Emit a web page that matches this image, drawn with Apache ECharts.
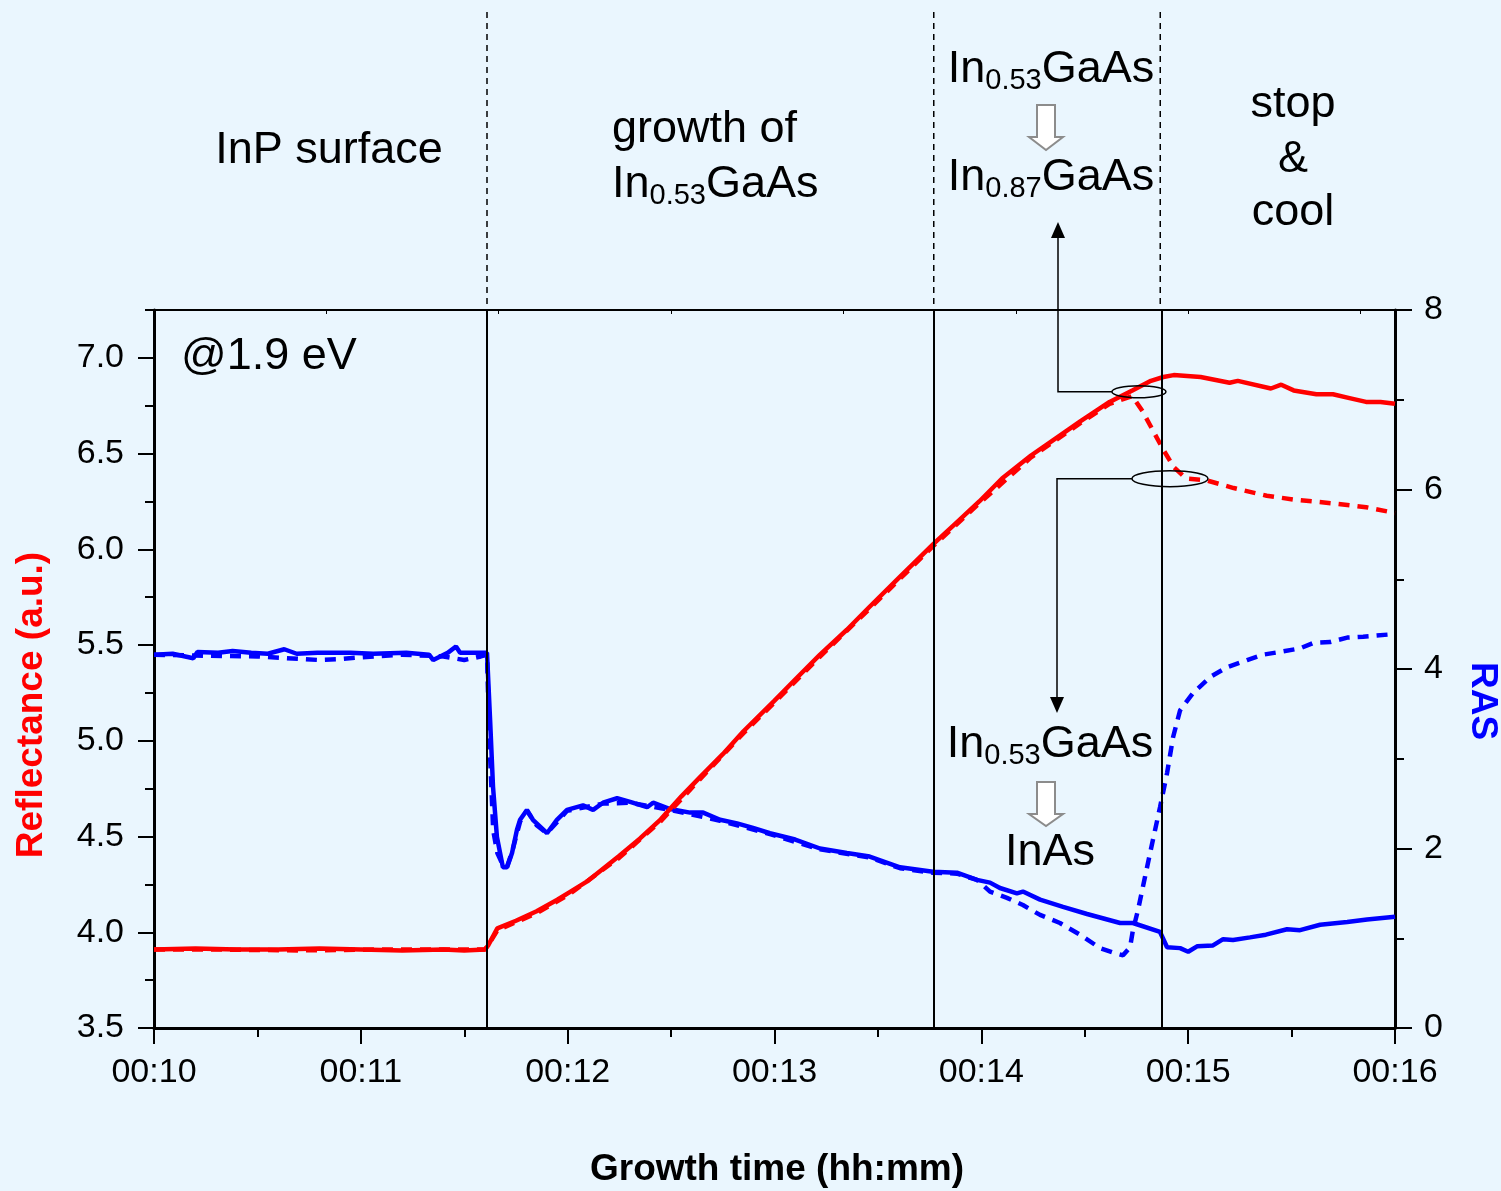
<!DOCTYPE html>
<html>
<head>
<meta charset="UTF-8">
<title>Reflectance / RAS</title>
<style>
  html, body { margin: 0; padding: 0; background: #eaf6fe; }
  #main { width: 1501px; height: 1191px; }
</style>
</head>
<body>
<div id="main"></div>
<script src="https://cdn.jsdelivr.net/npm/echarts@6/dist/echarts.min.js"></script>
<script type="text/javascript">
  var FONT = "'Liberation Sans', Arial, sans-serif";

  // [time in minutes, reflectance]
  var reflSolid = [
    [10.0, 3.91], [10.2, 3.915], [10.4, 3.91], [10.6, 3.91], [10.8, 3.915], [11.0, 3.91],
    [11.2, 3.905], [11.4, 3.91], [11.5, 3.905], [11.6, 3.91], [11.615, 3.93], [11.66, 4.02],
    [11.75, 4.06], [11.85, 4.11], [11.95, 4.17], [12.01, 4.21], [12.1, 4.27], [12.25, 4.40],
    [12.35, 4.49], [12.45, 4.59], [12.55, 4.71], [12.64, 4.81], [12.75, 4.93], [12.85, 5.05],
    [13.0, 5.21], [13.1, 5.32], [13.22, 5.45], [13.35, 5.58], [13.46, 5.70], [13.6, 5.85],
    [13.77, 6.03], [13.88, 6.14], [13.99, 6.25], [14.1, 6.37], [14.24, 6.49], [14.36, 6.58],
    [14.48, 6.67], [14.62, 6.77], [14.73, 6.83], [14.82, 6.88], [14.88, 6.90], [14.93, 6.91],
    [15.06, 6.90], [15.2, 6.87], [15.24, 6.88], [15.4, 6.84], [15.45, 6.86], [15.51, 6.83],
    [15.62, 6.81], [15.70, 6.81], [15.78, 6.79], [15.86, 6.77], [15.93, 6.77], [16.0, 6.76]
  ];
  var reflDashed = [
    [10.0, 3.91], [10.3, 3.91], [10.7, 3.905], [11.1, 3.91], [11.6, 3.91], [11.615, 3.93],
    [11.66, 4.01], [11.85, 4.10], [12.01, 4.20], [12.25, 4.39], [12.45, 4.58], [12.64, 4.80],
    [12.85, 5.04], [13.0, 5.20], [13.22, 5.44], [13.46, 5.69], [13.77, 6.02], [13.99, 6.24],
    [14.24, 6.48], [14.48, 6.66], [14.62, 6.76], [14.73, 6.80], [14.78, 6.72], [14.83, 6.62],
    [14.88, 6.52], [14.93, 6.43], [14.99, 6.37], [15.09, 6.36], [15.22, 6.32], [15.38, 6.28],
    [15.51, 6.26], [15.70, 6.24], [15.86, 6.22], [16.0, 6.19]
  ];

  // [time in minutes, RAS]
  var rasSolid = [
    [10.0, 4.16], [10.09, 4.17], [10.19, 4.12], [10.21, 4.19], [10.31, 4.18], [10.38, 4.20],
    [10.47, 4.18], [10.55, 4.17], [10.63, 4.22], [10.69, 4.17], [10.79, 4.18], [10.95, 4.18],
    [11.06, 4.17], [11.22, 4.18], [11.33, 4.16], [11.35, 4.10], [11.42, 4.18], [11.46, 4.25],
    [11.48, 4.18], [11.55, 4.18], [11.61, 4.18], [11.615, 4.16], [11.625, 3.43], [11.639, 2.69],
    [11.658, 2.13], [11.687, 1.79], [11.707, 1.79], [11.731, 1.95], [11.755, 2.21], [11.77, 2.32],
    [11.803, 2.43], [11.832, 2.32], [11.9, 2.17], [11.948, 2.32], [11.997, 2.43], [12.074, 2.48],
    [12.123, 2.43], [12.171, 2.51], [12.239, 2.56], [12.302, 2.52], [12.384, 2.46], [12.413, 2.51],
    [12.495, 2.44], [12.592, 2.40], [12.655, 2.40], [12.737, 2.32], [12.819, 2.28], [12.896, 2.23],
    [12.978, 2.17], [13.1, 2.10], [13.22, 2.00], [13.35, 1.95], [13.46, 1.91], [13.607, 1.79],
    [13.766, 1.74], [13.882, 1.73], [13.979, 1.65], [14.042, 1.62], [14.09, 1.56], [14.172, 1.50],
    [14.201, 1.52], [14.284, 1.43], [14.395, 1.35], [14.511, 1.27], [14.671, 1.17], [14.733, 1.17],
    [14.864, 1.07], [14.898, 0.90], [14.961, 0.89], [15.0, 0.85], [15.043, 0.91], [15.12, 0.92],
    [15.169, 0.99], [15.217, 0.98], [15.299, 1.01], [15.376, 1.04], [15.478, 1.10], [15.541, 1.09],
    [15.638, 1.15], [15.769, 1.18], [15.865, 1.21], [16.0, 1.24]
  ];
  var rasDashed = [
    [10.0, 4.16], [10.2, 4.15], [10.5, 4.14], [10.8, 4.10], [10.9, 4.11], [11.0, 4.13],
    [11.2, 4.16], [11.4, 4.14], [11.5, 4.10], [11.58, 4.14], [11.61, 4.16], [11.62, 3.30],
    [11.64, 2.20], [11.66, 1.95], [11.69, 1.80], [11.707, 1.80], [11.731, 1.96], [11.77, 2.30],
    [11.803, 2.42], [11.85, 2.26], [11.9, 2.17], [11.997, 2.42], [12.171, 2.50], [12.302, 2.51],
    [12.495, 2.43], [12.737, 2.31], [12.978, 2.16], [13.22, 1.99], [13.46, 1.90], [13.607, 1.78],
    [13.766, 1.73], [13.882, 1.72], [13.979, 1.65], [14.042, 1.52], [14.124, 1.45], [14.201, 1.37],
    [14.284, 1.26], [14.38, 1.17], [14.477, 1.04], [14.574, 0.89], [14.638, 0.84], [14.685, 0.81],
    [14.719, 0.90], [14.733, 1.09], [14.757, 1.31], [14.791, 1.68], [14.816, 1.95], [14.83, 2.10],
    [14.864, 2.46], [14.898, 2.84], [14.927, 3.24], [14.961, 3.54], [15.023, 3.73], [15.106, 3.91],
    [15.188, 4.02], [15.285, 4.10], [15.362, 4.16], [15.444, 4.19], [15.541, 4.23], [15.604, 4.29],
    [15.686, 4.30], [15.769, 4.35], [15.846, 4.36], [16.0, 4.39]
  ];

  // phase boundaries (minutes)
  var phaseTimes = [11.61, 13.77, 14.865];
  var reflTicks = [3.5, 4.0, 4.5, 5.0, 5.5, 6.0, 6.5, 7.0];

  var myChart = echarts.init(document.getElementById('main'));

  var option = {
    backgroundColor: '#eaf6fe',
    animation: false,
    textStyle: { fontFamily: FONT },
    grid: { left: 154, right: 106, top: 310, bottom: 163, outerBoundsMode: 'none' },
    xAxis: [{
      type: 'value', min: 10, max: 16, interval: 1, position: 'bottom',
      axisLine: { lineStyle: { color: '#000', width: 3 } },
      axisTick: { length: 16, lineStyle: { color: '#000', width: 2 } },
      minorTick: { show: true, splitNumber: 2, length: 9, lineStyle: { color: '#000', width: 2 } },
      splitLine: { show: false },
      axisLabel: {
        margin: 28, fontSize: 34, color: '#000', fontFamily: FONT,
        formatter: function (v) { return '00:' + v; }
      }
    }, {
      // top frame line with small inside ticks
      type: 'value', min: 0, max: 360, interval: 50, position: 'top',
      axisLine: { lineStyle: { color: '#000', width: 2 } },
      axisTick: { inside: true, length: 4, lineStyle: { color: '#000', width: 1 } },
      axisLabel: { show: false },
      splitLine: { show: false }
    }],
    yAxis: [{
      type: 'value', min: 3.5, max: 7.25, interval: 0.5, position: 'left',
      axisLine: { show: true, lineStyle: { color: '#000', width: 3 } },
      axisTick: { show: true, length: 16, customValues: reflTicks, lineStyle: { color: '#000', width: 2 } },
      splitLine: { show: false },
      axisLabel: {
        margin: 30, fontSize: 34, color: '#000', fontFamily: FONT, customValues: reflTicks,
        formatter: function (v) { return v.toFixed(1); }
      }
    }, {
      type: 'value', min: 0, max: 8, interval: 2, position: 'right',
      axisLine: { show: true, lineStyle: { color: '#000', width: 3 } },
      axisTick: { show: true, length: 17, lineStyle: { color: '#000', width: 2 } },
      minorTick: { show: true, splitNumber: 2, length: 9, lineStyle: { color: '#000', width: 2 } },
      splitLine: { show: false },
      axisLabel: { margin: 29, fontSize: 34, color: '#000', fontFamily: FONT }
    }, {
      // minor ticks of the reflectance axis
      type: 'value', min: 3.5, max: 7.25, interval: 0.25, position: 'left',
      axisLine: { show: false },
      axisTick: { show: true, length: 9, lineStyle: { color: '#000', width: 2 } },
      axisLabel: { show: false },
      splitLine: { show: false }
    }],
    series: [{
      name: 'RAS dashed', type: 'line', yAxisIndex: 1, showSymbol: false,
      lineStyle: { color: '#0000ff', width: 4.5, type: [11, 8] },
      data: rasDashed
    }, {
      name: 'RAS', type: 'line', yAxisIndex: 1, showSymbol: false,
      lineStyle: { color: '#0000ff', width: 4.5 },
      data: rasSolid
    }, {
      name: 'Reflectance dashed', type: 'line', yAxisIndex: 0, showSymbol: false,
      lineStyle: { color: '#ff0000', width: 4.5, type: [11, 8] },
      data: reflDashed
    }, {
      name: 'Reflectance', type: 'line', yAxisIndex: 0, showSymbol: false,
      lineStyle: { color: '#ff0000', width: 4.5 },
      data: reflSolid,
      markLine: {
        silent: true, symbol: 'none', label: { show: false },
        lineStyle: { color: '#000', width: 2, type: 'solid' },
        data: phaseTimes.map(function (t) { return { xAxis: t }; })
      }
    }]
  };

  myChart.setOption(option);

  // annotations
  function formula(sub) {
    return '{m|In}{s|' + sub + '}{m|GaAs}';
  }
  var rich = {
    m: { fontSize: 45, lineHeight: 50, fontFamily: FONT, fill: '#000', verticalAlign: 'middle' },
    s: { fontSize: 29, lineHeight: 20, fontFamily: FONT, fill: '#000', verticalAlign: 'bottom' }
  };
  function label(text, x, y, align) {
    return {
      type: 'text', silent: true, z: 100,
      style: {
        text: text, x: x, y: y, fill: '#000', fontSize: 45, fontFamily: FONT,
        textAlign: align || 'center', textVerticalAlign: 'middle', rich: rich
      }
    };
  }
  function axisTitle(text, x, y, rot, color) {
    return {
      type: 'text', silent: true, z: 100, x: x, y: y, rotation: rot,
      style: {
        text: text, x: 0, y: 0, fill: color, fontSize: 37, fontWeight: 'bold', fontFamily: FONT,
        textAlign: 'center', textVerticalAlign: 'middle'
      }
    };
  }
  function hollowArrow(cx, top, headY, tip) {
    return {
      type: 'polygon', silent: true, z: 100,
      shape: { points: [[cx - 9, top], [cx + 9, top], [cx + 9, headY], [cx + 17, headY], [cx, tip], [cx - 17, headY], [cx - 9, headY]] },
      style: { fill: '#fff', stroke: '#8c8c8c', lineWidth: 2 }
    };
  }

  var topY = myChart.convertToPixel({ yAxisIndex: 0 }, 7.25);
  var graphics = [];
  phaseTimes.forEach(function (t) {
    var px = myChart.convertToPixel({ xAxisIndex: 0 }, t);
    graphics.push({
      type: 'line', silent: true,
      shape: { x1: px, y1: 12, x2: px, y2: topY },
      style: { stroke: '#000', lineWidth: 1.5, lineDash: [6, 5] }
    });
  });

  graphics.push(axisTitle('Growth time (hh:mm)', 777, 1170, 0, '#000'));
  graphics.push(axisTitle('Reflectance (a.u.)', 32, 705, Math.PI / 2, '#ff0000'));
  graphics.push(axisTitle('RAS', 1482, 701, -Math.PI / 2, '#0000ff'));

  graphics.push(label('InP surface', 329, 151));
  graphics.push(label('growth of', 612, 130, 'left'));
  graphics.push(label(formula('0.53'), 612, 185, 'left'));
  graphics.push(label(formula('0.53'), 1051, 70));
  graphics.push(hollowArrow(1046, 105, 137, 150));
  graphics.push(label(formula('0.87'), 1051, 178));
  graphics.push(label('stop', 1293, 105));
  graphics.push(label('&', 1293, 160));
  graphics.push(label('cool', 1293, 213));
  graphics.push(label('@1.9 eV', 181, 357, 'left'));
  graphics.push(label(formula('0.53'), 1050, 745));
  graphics.push(hollowArrow(1046, 782, 814, 826));
  graphics.push(label('InAs', 1050, 853));

  // ellipses marking the two traces and their arrows
  var upper = myChart.convertToPixel({ xAxisIndex: 0, yAxisIndex: 0 }, [14.762, 6.823]);
  var lower = myChart.convertToPixel({ xAxisIndex: 0, yAxisIndex: 0 }, [14.912, 6.369]);
  graphics.push({
    type: 'ellipse', silent: true, z: 100,
    shape: { cx: upper[0], cy: upper[1], rx: 27, ry: 6 },
    style: { fill: null, stroke: '#000', lineWidth: 1.5 }
  });
  graphics.push({
    type: 'ellipse', silent: true, z: 100,
    shape: { cx: lower[0], cy: lower[1], rx: 38, ry: 8 },
    style: { fill: null, stroke: '#000', lineWidth: 1.5 }
  });
  graphics.push({
    type: 'polyline', silent: true, z: 100,
    shape: { points: [[upper[0] - 27, upper[1]], [1058, upper[1]], [1058, 236]] },
    style: { stroke: '#000', lineWidth: 1.5, fill: null }
  });
  graphics.push({
    type: 'polygon', silent: true, z: 100,
    shape: { points: [[1058, 222], [1065, 238], [1051, 238]] },
    style: { fill: '#000' }
  });
  graphics.push({
    type: 'polyline', silent: true, z: 100,
    shape: { points: [[lower[0] - 38, lower[1]], [1057, lower[1]], [1057, 698]] },
    style: { stroke: '#000', lineWidth: 1.5, fill: null }
  });
  graphics.push({
    type: 'polygon', silent: true, z: 100,
    shape: { points: [[1057, 713], [1064, 697], [1050, 697]] },
    style: { fill: '#000' }
  });

  myChart.setOption({ graphic: graphics });
</script>
</body>
</html>
